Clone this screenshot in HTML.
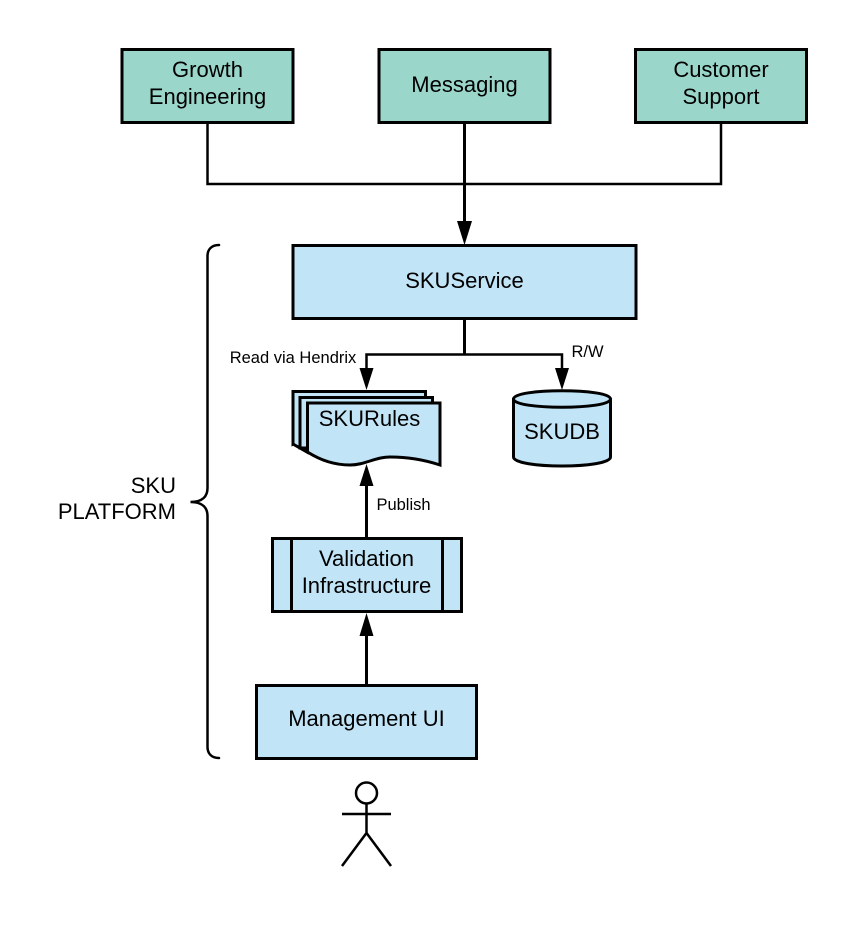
<!DOCTYPE html>
<html><head><meta charset="utf-8"><style>
html,body{margin:0;padding:0;background:#fff}
svg{display:block}
text{font-family:"Liberation Sans",sans-serif;fill:#000;font-size:22px;text-anchor:middle}
.s{font-size:16.5px}
.box{stroke:#000;stroke-width:3}
.g{fill:#9ad6ca}
.b{fill:#c1e4f7}
.l{fill:none;stroke:#000;stroke-width:2.5}
</style></head><body>
<svg width="856" height="942" viewBox="0 0 856 942" xmlns="http://www.w3.org/2000/svg">
<rect width="856" height="942" fill="#fff"/>
<path class="l" d="M207.5 123V184H721V123"/>
<path d="M464.5 123V222" fill="none" stroke="#000" stroke-width="3"/>
<path d="M457 221H472L464.500 245Z" fill="#000"/>
<rect class="box g" x="122" y="49.500" width="171" height="73"/>
<rect class="box g" x="379" y="49.500" width="171" height="73"/>
<rect class="box g" x="635.500" y="49.500" width="171" height="73"/>
<text x="207.500" y="77">Growth</text>
<text x="207.500" y="104">Engineering</text>
<text x="464.500" y="92">Messaging</text>
<text x="721" y="77">Customer</text>
<text x="721" y="104">Support</text>

<rect class="box b" x="293" y="245.500" width="343" height="73"/>
<text x="464.500" y="288">SKUService</text>

<path d="M464.500 319V354.500" fill="none" stroke="#000" stroke-width="3"/>
<path class="l" d="M366.500 369V354.500H562V369"/>
<path d="M359.500 368H373.500L366.500 390Z M555 368H569L562 390Z" fill="#000"/>
<text class="s" x="293" y="363">Read via Hendrix</text>
<text class="s" x="587.500" y="357">R/W</text>

<path class="box b" d="M293 391.500H425.500V440H300L293 444Z"/>
<path class="box b" d="M293 391.500V444L307 452V420H300V397.500H425.500V391.500Z"/>
<path class="box b" d="M300 397.500H432.500V448H300Z"/>
<path class="box b" d="M307.500 403H440V465C425 460 410 457 390 457C375 457 365 465 350 465C335 465 320 460 307.500 452Z"/>
<text x="369.500" y="426">SKURules</text>

<path class="box b" d="M513.500 399C513.500 388 610.500 388 610.500 399V457C610.500 469 513.500 469 513.500 457Z"/>
<path class="box" fill="none" d="M513.500 399C513.500 410 610.500 410 610.500 399"/>
<text x="562" y="439">SKUDB</text>

<path d="M366.500 538V485" fill="none" stroke="#000" stroke-width="3"/>
<path d="M359.500 486H373.500L366.500 464Z" fill="#000"/>
<text class="s" x="403.500" y="510">Publish</text>

<rect class="box b" x="272.500" y="538.500" width="189" height="73"/>
<path d="M291.500 538.500V611.500M442.500 538.500V611.500" fill="none" stroke="#000" stroke-width="3"/>
<text x="366.500" y="566">Validation</text>
<text x="366.500" y="593">Infrastructure</text>

<path d="M366.500 685V635" fill="none" stroke="#000" stroke-width="3"/>
<path d="M359.500 636H373.500L366.500 613Z" fill="#000"/>

<rect class="box b" x="256.500" y="685.500" width="220" height="73"/>
<text x="366.500" y="726">Management UI</text>

<circle class="l" cx="366.500" cy="793" r="10.500" fill="none"/>
<path class="l" d="M366.500 803.500V833M342 814H391M342 866L366.500 833L391 866"/>

<path class="l" stroke-linecap="round" d="M219 245C212 245 207.500 249 207.500 256V488C207.500 496 203 502 190.500 502C203 502 207.500 508 207.500 516V747C207.500 754 212 758 219 758"/>
<text x="176" y="493" style="text-anchor:end">SKU</text>
<text x="176" y="519" style="text-anchor:end">PLATFORM</text>
</svg>
</body></html>
